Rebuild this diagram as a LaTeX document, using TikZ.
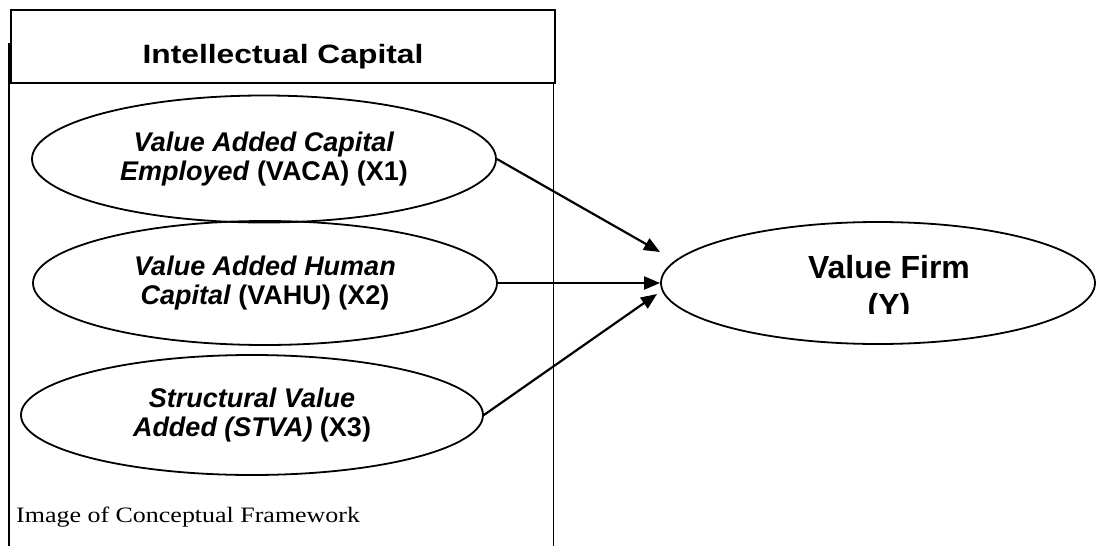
\documentclass[tikz,border=0pt]{standalone}
\usepackage{fontspec}
\setmainfont{Liberation Sans}
\newfontfamily\headfont[FakeStretch=1.2]{Liberation Sans}
\newfontfamily\capfont[FakeStretch=1.18]{Liberation Serif}
\usetikzlibrary{arrows.meta, positioning, shapes.geometric}
\tikzset{
  vbox/.style={draw, ellipse, line width=1.8pt, inner sep=0pt, align=center,
               font=\fontsize{27}{29}\selectfont\bfseries},
  hbox/.style={draw, line width=2.4pt, minimum width=544pt, minimum height=73pt,
               inner sep=0pt},
  htext/.style={font=\headfont\fontsize{26.5}{30}\selectfont\bfseries,
                anchor=base, inner sep=0pt},
  ytext/.style={font=\fontsize{32}{38}\selectfont\bfseries, align=center,
                inner sep=0pt},
  ctext/.style={font=\capfont\fontsize{22}{26}\selectfont, anchor=base west,
                inner sep=0pt},
  varr/.style={-{Triangle[length=16pt, width=13pt]}, line width=2.2pt},
  icframe/.style={line width=1.8pt},
}
\begin{document}
\begin{tikzpicture}[x=1pt, y=-1pt]
\useasboundingbox (0,0) rectangle (1101,546);
% intellectual capital block
\node[hbox] (head) at (283,46.5) {};
\node[htext] (title) at (283,63) {Intellectual Capital};
\draw[icframe] (9,43) -- (9,546);
\draw[icframe] (553.5,83) -- (553.5,546);
\node[vbox, minimum width=464pt, minimum height=127pt] (vaca) at (264,159)
  {\textit{Value Added Capital}\\\textit{Employed} (VACA) (X1)};
\node[vbox, minimum width=464pt, minimum height=124pt] (vahu) at (265,283)
  {\textit{Value Added Human}\\\textit{Capital} (VAHU) (X2)};
\node[vbox, minimum width=462pt, minimum height=120pt] (stva) at (252,415)
  {\textit{Structural Value}\\\textit{Added (STVA)} (X3)};
\node[ctext] (caption) at (16,522) {Image of Conceptual Framework};
% dependent variable
\node[vbox, minimum width=434pt, minimum height=122pt] (vf) at (878,283) {};
\begin{scope}
  \clip (700,240) rectangle (1060,313);
  \node[ytext] (vflabel) at (889,289) {Value Firm\\(Y)};
\end{scope}
\coordinate (tipa) at (660,252);
\coordinate (tipc) at (657,294);
\draw[varr] (vaca.east) -- (tipa);
\draw[varr] (vahu.east) -- (vf.west);
\draw[varr] (stva.east) -- (tipc);
\end{tikzpicture}
\end{document}
